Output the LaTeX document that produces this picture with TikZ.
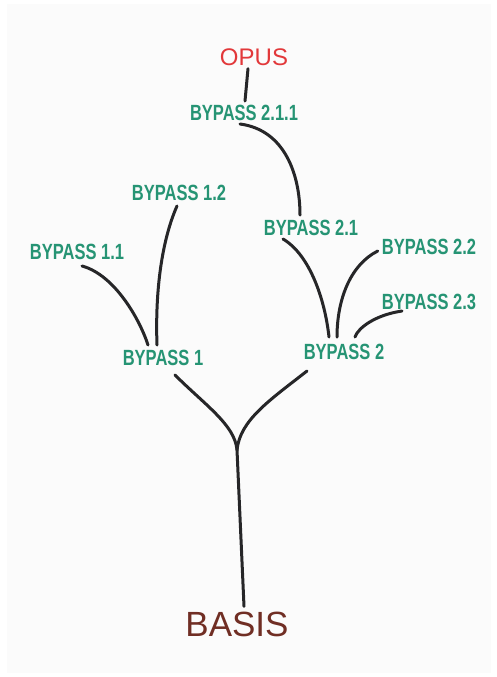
\documentclass[tikz,border=0pt]{standalone}
\usepackage{fontspec}
\usepackage{tikz}
\newfontfamily\handfont[FakeStretch=0.75]{Liberation Sans}
\newfontfamily\plainfont{Liberation Sans}
\definecolor{bypassgreen}{RGB}{38,148,116}
\definecolor{opusred}{RGB}{226,56,58}
\definecolor{basisbrown}{RGB}{112,46,36}
\definecolor{inkgray}{RGB}{38,38,40}
\tikzset{
  bypass/.style={text=bypassgreen, inner sep=2pt, font=\handfont\bfseries\fontsize{22}{24}\selectfont},
  branch/.style={draw=inkgray, line width=3pt, line cap=round}
}

\begin{document}
\begin{tikzpicture}[x=1pt, y=-1pt]
        \useasboundingbox (0,0) rectangle (496,677);
        \fill[gray!3] (7,4) rectangle (491,673);
        \coordinate (fork) at (237,450);
        \node[text=opusred, inner sep=2pt, font=\plainfont\fontsize{24}{26}\selectfont] (opus) at (254,57) {OPUS};
        \node[bypass] (b211) at (244,113) {BYPASS 2.1.1};
        \node[bypass] (b12) at (179,193) {BYPASS 1.2};
        \node[bypass] (b21) at (311,228) {BYPASS 2.1};
        \node[bypass] (b22) at (429,247) {BYPASS 2.2};
        \node[bypass] (b11) at (77,252) {BYPASS 1.1};
        \node[bypass] (b23) at (429,302) {BYPASS 2.3};
        \node[bypass] (b2) at (344,352) {BYPASS 2};
        \node[bypass] (b1) at (163,358) {BYPASS 1};
        \node[text=basisbrown, inner sep=2pt, font=\plainfont\fontsize{35}{38}\selectfont] (basis) at (237,624) {BASIS};
        \draw[branch] ([xshift=-6pt,yshift=-1pt]opus.south) -- ([xshift=1pt,yshift=2pt]b211.north);
        \draw[branch] ([xshift=-4pt,yshift=-1pt]b211.south) .. controls (285,130) and (300,175) .. ([xshift=-11pt,yshift=3pt]b21.north);
        \draw[branch] ([xshift=5pt,yshift=-4pt]b11.south) .. controls (115,275) and (140,320) .. ([xshift=-15pt,yshift=3pt]b1.north);
        \draw[branch] ([xshift=-2pt,yshift=-3pt]b12.south) .. controls (162,240) and (155,290) .. ([xshift=-6pt,yshift=3pt]b1.north);
        \draw[branch] ([xshift=-28pt,yshift=-1pt]b21.south) .. controls (310,255) and (325,300) .. ([xshift=-15pt,yshift=5pt]b2.north);
        \draw[branch] ([xshift=-2pt,yshift=-4pt]b22.west) .. controls (350,265) and (337,300) .. ([xshift=-7pt,yshift=5pt]b2.north);
        \draw[branch] ([xshift=-27pt,yshift=1pt]b23.south) .. controls (375,315) and (358,328) .. ([xshift=11pt,yshift=5pt]b2.north);
        \draw[branch] ([xshift=12pt,yshift=-7pt]b1.south) .. controls (205,405) and (235,425) .. (fork);
        \draw[branch] ([xshift=-37pt,yshift=-9pt]b2.south) .. controls (270,400) and (240,420) .. (fork);
        \draw[branch] (fork) -- ([xshift=7pt,yshift=3pt]basis.north);
\end{tikzpicture}
\end{document}
